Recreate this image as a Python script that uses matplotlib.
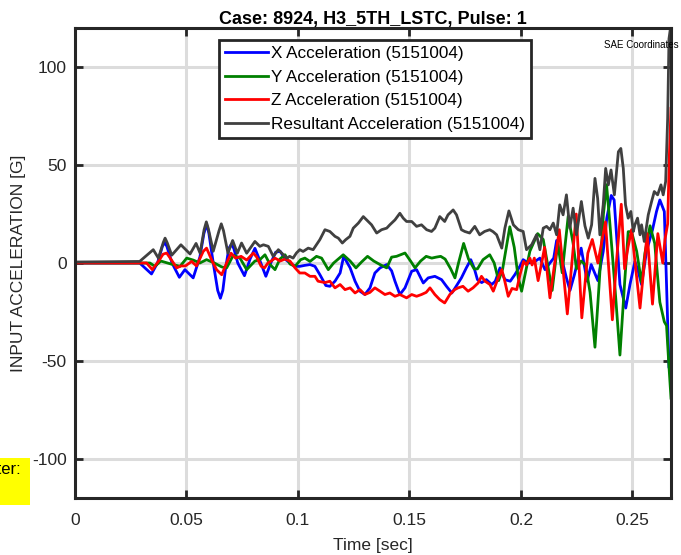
import matplotlib
matplotlib.use("Agg")
import matplotlib.pyplot as plt
from matplotlib.patches import Rectangle

plt.rcParams["font.family"] = ["Liberation Sans", "DejaVu Sans"]
plt.rcParams["axes.unicode_minus"] = False

# (time [s], acceleration [G]) samples per channel
x_accel = [
    (0, 0), (0.029, 0), (0.0343, -5.6), (0.0370, 0), (0.0392, 8.5), (0.0402, 10.5),
    (0.0412, 8.5), (0.0435, 0), (0.0468, -7.3), (0.0493, -3.4), (0.0530, -7.6),
    (0.0560, 3), (0.0578, 15), (0.0590, 19.8), (0.0600, 15.5), (0.0620, 0),
    (0.0640, -14), (0.0652, -18), (0.0663, -14), (0.0675, -3), (0.0690, 7.5),
    (0.0701, 9.5), (0.0712, 7.5), (0.0730, 0), (0.0760, -6.5), (0.0785, 2),
    (0.0807, 7.5), (0.0830, 1), (0.0856, -6.8), (0.0878, 0), (0.0900, 5.5),
    (0.0920, 6), (0.0942, 2), (0.0964, 0), (0.0987, -1.7), (0.1009, -1.7),
    (0.1031, -1.2), (0.1054, -0.8), (0.1076, -1.7), (0.1098, -5.9), (0.1125, -11.5),
    (0.1143, -11.9), (0.1166, -9.3), (0.1189, -5.1), (0.1205, 3.4), (0.1234, -2.5),
    (0.1256, -9.3), (0.1278, -14.4), (0.1300, -16.1), (0.1323, -12.7), (0.1345, -5.1),
    (0.1368, -2.5), (0.1398, -0.8), (0.1420, -4), (0.1435, -9.3), (0.1457, -16.1),
    (0.1480, -12.7), (0.1510, -4.2), (0.1532, -3.4), (0.1562, -10.2), (0.1584, -7.6),
    (0.1614, -6.8), (0.1644, -8.5), (0.1666, -11.9), (0.1690, -15.3), (0.1705, -12.7),
    (0.1733, -7.6), (0.1755, -2.5), (0.1775, 1.7), (0.1790, -2.5), (0.1805, -8.5),
    (0.1824, -10), (0.1845, -8.5), (0.1869, -11), (0.1885, -9.3), (0.1906, -2.5),
    (0.1928, -8.5), (0.1952, -9.3), (0.1973, -5.9), (0.1996, -1.5), (0.2010, 1.7),
    (0.2033, 0), (0.2063, 0.8), (0.2085, 2.5), (0.2108, -3.4), (0.2130, 0),
    (0.2147, 2.5), (0.2160, 11.5), (0.2182, 2.5), (0.2204, -7.6), (0.2220, -14),
    (0.2240, -5.9), (0.2256, 1.7), (0.2270, 7.6), (0.2297, -9.3), (0.2315, -0.8),
    (0.2345, -9), (0.2369, 5.9), (0.2385, 22.9), (0.2405, 34.5), (0.2418, 32.2),
    (0.2444, -11), (0.2470, -23), (0.2489, -11), (0.2511, 0.8), (0.2526, -4.2),
    (0.2541, -11), (0.2563, 5.9), (0.2590, 17), (0.2608, 26.3), (0.2623, 32.2),
    (0.2643, 26.3), (0.2653, -11), (0.2664, -53.4), (0.2673, -54),
]

y_accel = [
    (0, 0), (0.030, 0), (0.0336, 0), (0.0358, -1.7), (0.0385, 1), (0.0430, -0.5),
    (0.0471, -1.7), (0.0501, 2.5), (0.0530, 1.5), (0.0560, 0), (0.0590, 1.7),
    (0.0625, 0), (0.0658, -2), (0.0680, -2.5), (0.0710, 4), (0.0740, 2.5),
    (0.0770, -3.4), (0.0807, 1), (0.0829, 1.7), (0.0852, 4.2), (0.0875, -0.8),
    (0.0897, -3.4), (0.0919, 2), (0.0942, 4.2), (0.0964, -0.5), (0.0987, -1.7),
    (0.1012, 1.7), (0.1031, 2.5), (0.1054, 0.8), (0.1083, 3.4), (0.1106, 2.5),
    (0.1136, -3.4), (0.1160, 0), (0.1203, 4.2), (0.1234, 1), (0.1260, -2.5),
    (0.1285, 0.5), (0.1312, 3.4), (0.1340, 1), (0.1368, -0.8), (0.1398, -2.5),
    (0.1420, 3), (0.1442, 3.4), (0.1480, 5.1), (0.1505, 1), (0.1525, -2.5),
    (0.1550, 1), (0.1575, 3.4), (0.1600, 2.5), (0.1620, 3), (0.1640, 3.4),
    (0.1660, 2), (0.1685, -3), (0.1704, -7.6), (0.1720, 0), (0.1743, 10),
    (0.1765, 2), (0.1790, -3), (0.1805, -3), (0.1830, 1.7), (0.1860, 4.2),
    (0.1880, 0), (0.1900, -9), (0.1918, -3), (0.1950, 18.5), (0.1970, 8),
    (0.1988, -7.6), (0.2003, -14.4), (0.2040, 6), (0.2075, 15), (0.2100, 12),
    (0.2140, -14), (0.2165, 10), (0.2185, -5), (0.2212, 24), (0.2234, 10),
    (0.2249, -3), (0.2270, 1), (0.2290, -1), (0.2310, -15), (0.2332, -43),
    (0.2350, -12), (0.2370, 25), (0.2384, 40), (0.2399, 20), (0.2420, -10),
    (0.2444, -47), (0.2465, -10), (0.2481, 16), (0.2496, 16), (0.2519, 6),
    (0.2541, -10), (0.2556, 5), (0.2579, 19), (0.2600, 10), (0.2623, -20),
    (0.2643, -30), (0.2653, -32), (0.2664, -53), (0.2673, -69),
]

z_accel = [
    (0, 0), (0.030, 0), (0.0321, 0), (0.0347, -3.4), (0.0375, 1), (0.0395, 4.5),
    (0.0411, 5.1), (0.0430, 2), (0.0456, -2.5), (0.0475, -1.5), (0.0495, -1.5),
    (0.0523, 0.8), (0.0545, -1.5), (0.0575, 5.9), (0.0590, 7.6), (0.0615, 1),
    (0.0635, -3.4), (0.0658, -6), (0.0680, 0), (0.0700, 5), (0.0720, 2.5),
    (0.0745, 3.4), (0.0770, 1.5), (0.0800, 5.1), (0.0815, 3), (0.0835, -1.7),
    (0.0850, -2.5), (0.0865, 0), (0.0880, 1), (0.0897, 2.5), (0.0920, 1),
    (0.0942, 2), (0.0964, 1), (0.0987, -2.5), (0.1008, -5.1), (0.1031, -5.1),
    (0.1054, -6.8), (0.1076, -6.8), (0.1090, -9.3), (0.1121, -10), (0.1143, -9.3),
    (0.1166, -12.7), (0.1189, -11), (0.1211, -13.6), (0.1234, -12.7), (0.1256, -15.3),
    (0.1278, -13.6), (0.1300, -16.1), (0.1323, -15), (0.1345, -12.7), (0.1368, -14.4),
    (0.1390, -16.1), (0.1412, -15.3), (0.1435, -17), (0.1457, -16.1), (0.1487, -17.8),
    (0.1510, -16.1), (0.1532, -17), (0.1554, -16.1), (0.1575, -15), (0.1592, -12.7),
    (0.1614, -16.1), (0.1636, -18.7), (0.1658, -20.4), (0.1681, -16.1), (0.1703, -13.6),
    (0.1718, -12.7), (0.1740, -11.9), (0.1763, -14.4), (0.1785, -12.7), (0.1808, -10.2),
    (0.1823, -6.8), (0.1839, -9.3), (0.1861, -11), (0.1876, -14.4), (0.1898, -7.6),
    (0.1914, -3.4), (0.1925, -8), (0.1943, -17), (0.1960, -13), (0.1981, -13.6),
    (0.1996, -5.9), (0.2012, 0.8), (0.2025, -1), (0.2040, 2.5), (0.2050, -1),
    (0.2060, 2.5), (0.2077, -9), (0.2093, 0), (0.2106, 8), (0.2130, -17.8),
    (0.2172, 17), (0.2208, -26), (0.2248, 25), (0.2273, -28), (0.2300, 5),
    (0.2320, 12), (0.2345, 0), (0.2379, 21), (0.2410, -29), (0.2428, 0),
    (0.2450, 30), (0.2465, -3), (0.2480, 8), (0.2496, 17), (0.2534, -23),
    (0.2566, 15), (0.2590, -21), (0.2614, 15), (0.2636, 0), (0.2646, 12),
    (0.2658, 20), (0.2666, 56), (0.2673, 79),
]

resultant = [
    (0, 0.5), (0.029, 0.8), (0.0351, 6.8), (0.0374, 2.5), (0.0396, 10.5), (0.0404, 12.7),
    (0.0413, 10.5), (0.0434, 4), (0.0475, 9.3), (0.0516, 4.6), (0.0543, 10), (0.0561, 5),
    (0.0579, 17), (0.0589, 21), (0.0598, 17.5), (0.0620, 6), (0.0646, 16.5), (0.0656, 20),
    (0.0666, 16.5), (0.0686, 5), (0.0707, 11.5), (0.0728, 5), (0.0747, 10.2), (0.0770, 5),
    (0.0807, 11), (0.0829, 8.5), (0.0845, 9.3), (0.0867, 8.5), (0.0889, 3.4), (0.0912, 6.8),
    (0.0949, 2.5), (0.0963, 3.4), (0.0978, 2.5), (0.0993, 5.1), (0.1008, 6.8), (0.1023, 5.9),
    (0.1046, 7.6), (0.1068, 6.8), (0.1083, 9.3), (0.1098, 11.9), (0.1121, 17), (0.1143, 16.1),
    (0.1166, 13.6), (0.1181, 12.7), (0.1199, 10.2), (0.1214, 11.9), (0.1233, 13.6),
    (0.1248, 17.8), (0.1271, 20.4), (0.1293, 23.7), (0.1315, 21.2), (0.1330, 19.5),
    (0.1353, 15.3), (0.1375, 17), (0.1398, 17.8), (0.1412, 19.5), (0.1435, 22),
    (0.1457, 25.4), (0.1472, 22.9), (0.1487, 21.2), (0.1510, 21.2), (0.1532, 18.7),
    (0.1554, 19.5), (0.1577, 17), (0.1599, 16.1), (0.1614, 17.8), (0.1636, 23.7),
    (0.1658, 21.2), (0.1673, 24.6), (0.1696, 27.1), (0.1711, 24.6), (0.1733, 17),
    (0.1748, 16.1), (0.1770, 15.3), (0.1793, 18.7), (0.1815, 14.4), (0.1837, 16.1),
    (0.1860, 17), (0.1875, 16), (0.1891, 14.4), (0.1914, 7.6), (0.1928, 17.8),
    (0.1946, 26.6), (0.1966, 19.5), (0.1988, 17), (0.2010, 16.1), (0.2025, 6.8),
    (0.2048, 9.3), (0.2070, 14.4), (0.2085, 6.8), (0.2100, 17.8), (0.2115, 18.7),
    (0.2130, 17), (0.2145, 20.4), (0.2160, 14.4), (0.2174, 29.7), (0.2189, 24.6),
    (0.2204, 34.8), (0.2219, 17.8), (0.2234, 28), (0.2249, 14.4), (0.2271, 31.4),
    (0.2287, 19), (0.2302, 12.7), (0.2317, 19.5), (0.2332, 43.2), (0.2344, 33),
    (0.2354, 14.4), (0.2369, 29.7), (0.2380, 48.3), (0.2392, 39.9), (0.2404, 47.5),
    (0.2419, 34.8), (0.2437, 56.8), (0.2448, 58.5), (0.2459, 48.3), (0.2469, 29.7),
    (0.2481, 22.9), (0.2493, 26.3), (0.2504, 16.1), (0.2511, 19.5), (0.2523, 22.9),
    (0.2534, 14.4), (0.2541, 19.5), (0.2553, 11), (0.2571, 24.6), (0.2586, 31.4),
    (0.2598, 36.5), (0.2613, 34.8), (0.2628, 39.9), (0.2638, 34.8), (0.2649, 41.6),
    (0.2658, 73.8), (0.2664, 114.5), (0.2673, 122),
]

channel_id = "5151004"
series = [
    (x_accel, "#0000ff", f"X Acceleration ({channel_id})"),
    (y_accel, "#008000", f"Y Acceleration ({channel_id})"),
    (z_accel, "#ff0000", f"Z Acceleration ({channel_id})"),
    (resultant, "#404040", f"Resultant Acceleration ({channel_id})"),
]

x_ticks = [0, 0.05, 0.1, 0.15, 0.2, 0.25]
x_ticklabels = ["0", "0.05", "0.1", "0.15", "0.2", "0.25"]
y_ticks = [-100, -50, 0, 50, 100]

AXC = "#262626"

fig = plt.figure(figsize=(6.81, 5.55), dpi=100)
ax = fig.add_axes([75 / 681, 1 - 498 / 555, 596 / 681, 470 / 555])

for data, color, label in series:
    t, v = zip(*data)
    ax.plot(t, v, color=color, lw=2.0, label=label, solid_joinstyle="round")

ax.set_xlim(0, 0.2673)
ax.set_ylim(-120, 120)
ax.set_xticks(x_ticks)
ax.set_xticklabels(x_ticklabels)
ax.set_yticks(y_ticks)
ax.grid(True, color="#dcdcdc", lw=2.2)
ax.set_axisbelow(True)

for spine in ax.spines.values():
    spine.set_color(AXC)
    spine.set_linewidth(2.2)
ax.tick_params(direction="in", top=True, right=True, length=5.5, width=2,
               colors=AXC, labelsize=12.5)
ax.tick_params(axis="x", pad=11)
ax.tick_params(axis="y", pad=6)
for lbl in ax.get_xticklabels() + ax.get_yticklabels():
    lbl.set_color(AXC)

ax.set_xlabel("Time [sec]", fontsize=12.5, color=AXC, labelpad=7)
ax.set_ylabel("INPUT ACCELERATION [G]", fontsize=12.5, color=AXC, labelpad=4)
ax.set_title("Case: 8924, H3_5TH_LSTC, Pulse: 1", fontsize=13, fontweight="bold", pad=3)

leg = ax.legend(loc="upper left", bbox_to_anchor=(0.2416, 0.9745), borderaxespad=0,
                fontsize=12.3, handlelength=2.5, handletextpad=0.2, labelspacing=0.5,
                borderpad=0.35, fancybox=False, framealpha=1, edgecolor=AXC)
leg.get_frame().set_linewidth(2)

ax.text(0.8876, 0.9638, "SAE Coordinates", transform=ax.transAxes, fontsize=7,
        ha="left", va="center", clip_on=False)

# highlighted note box at the left edge of the figure
fig.add_artist(Rectangle((0, 1 - 505 / 555), 30 / 681, 47 / 555,
                         transform=fig.transFigure, facecolor="#ffff00", edgecolor="none"))
fig.text(21 / 681, 1 - 469 / 555, "Filter:", fontsize=12, ha="right", va="center")

fig.savefig("out.png", dpi=100)
